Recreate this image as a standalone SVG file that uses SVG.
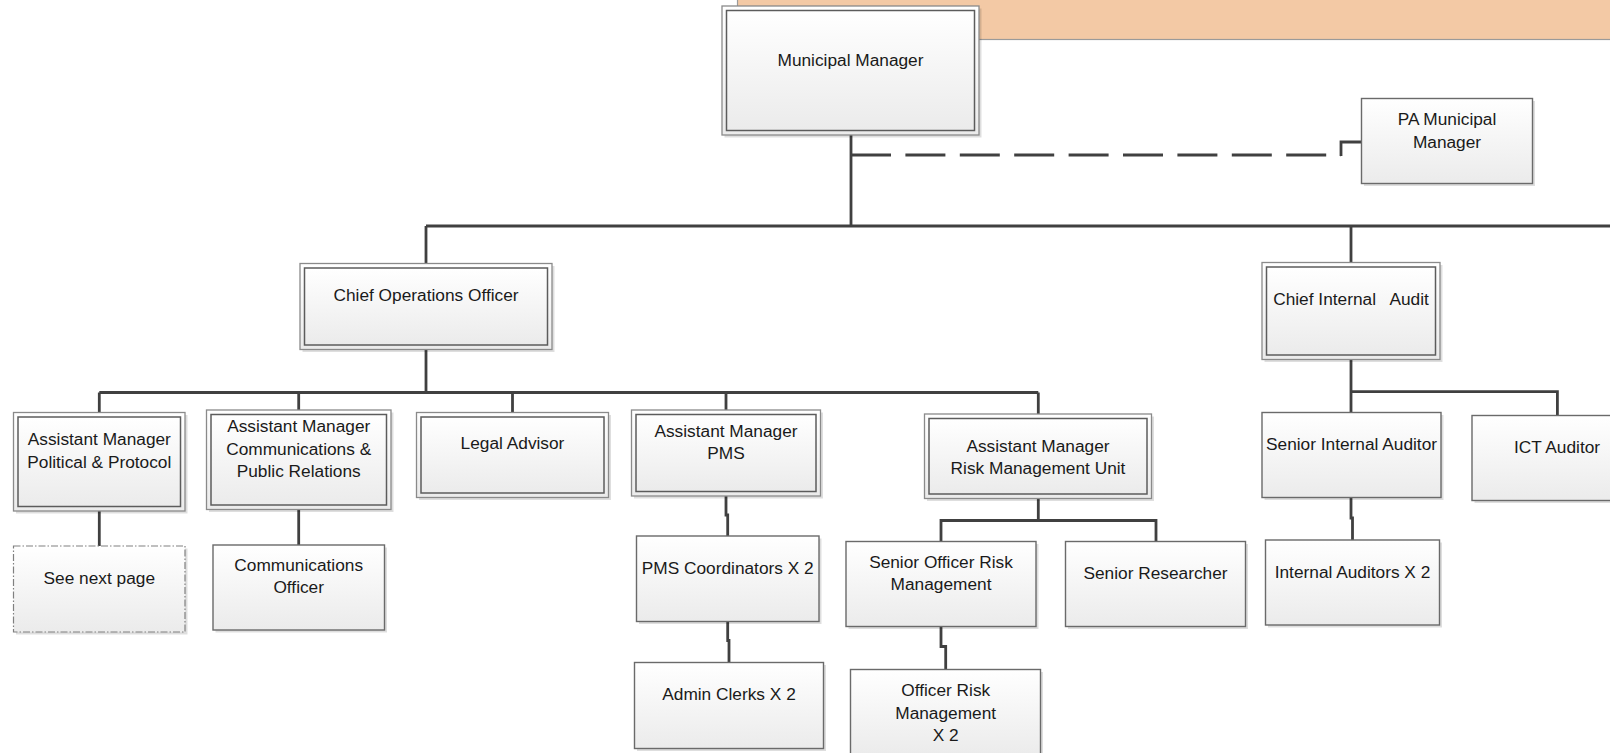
<svg xmlns="http://www.w3.org/2000/svg" width="1610" height="753" viewBox="0 0 1610 753">
  <defs>
    <linearGradient id="boxFill" x1="0" y1="0" x2="0" y2="1">
      <stop offset="0" stop-color="#ffffff"/>
      <stop offset="1" stop-color="#ebebeb"/>
    </linearGradient>
  </defs>
  <style>
    .shadow { fill: #000000; fill-opacity: 0.13; }
    .outer { fill: url(#boxFill); stroke: #8a8a8a; stroke-width: 1.3; }
    .inner { fill: url(#boxFill); stroke: #5c5c5c; stroke-width: 1.5; }
    .box { fill: url(#boxFill); stroke: #6a6a6a; stroke-width: 1.4; }
    .dashbox { fill: url(#boxFill); stroke: #808080; stroke-width: 1.2; stroke-dasharray: 7 2 1.5 2; }
    .lbl { font-family: "Liberation Sans", Arial, sans-serif; font-size: 17.3px; fill: #1a1a1a; text-anchor: middle; }
    .pre { white-space: pre; }
    .conn { fill: none; stroke: #404040; stroke-width: 2.8; }
    .dash { fill: none; stroke: #404040; stroke-width: 2.8; stroke-dasharray: 40 14.4; }
  </style>

  <!-- title banner -->
  <rect id="banner" x="737.5" y="-2" width="880" height="41.5" fill="#f3c9a5" stroke="#9a9a9a" stroke-width="1.2"/>

  <!-- connectors -->
  <g id="connectors">
    <path class="conn" d="M851,135 V226"/>
    <path class="conn" d="M426,226 H1612"/>
    <path class="conn" d="M426,226 V263.5"/>
    <path class="conn" d="M1351,226 V262.5"/>
    <path class="dash" d="M851,155 H1341"/>
    <path class="conn" d="M1341,156 V142 H1361.5"/>
    <path class="conn" d="M426,349.5 V392.5"/>
    <path class="conn" d="M99.3,392.5 H1038.3"/>
    <path class="conn" d="M99.3,392.5 V412.5"/>
    <path class="conn" d="M298.7,392.5 V410"/>
    <path class="conn" d="M512.5,392.5 V412.5"/>
    <path class="conn" d="M726,392.5 V410"/>
    <path class="conn" d="M1038.3,392.5 V414"/>
    <path class="conn" d="M99.3,511 V546"/>
    <path class="conn" d="M298.7,509.5 V545"/>
    <path class="conn" d="M726,496 V515 H727.7 V536"/>
    <path class="conn" d="M727.7,621.5 V640.5 H729 V662.5"/>
    <path class="conn" d="M1038.3,498.5 V520.5"/>
    <path class="conn" d="M941,541.5 V520.5 H1156 V541.5"/>
    <path class="conn" d="M941,626.5 V646.5 H945.7 V669.5"/>
    <path class="conn" d="M1351,359.5 V412.5"/>
    <path class="conn" d="M1351,391.7 H1557.4 V415.5"/>
    <path class="conn" d="M1351,497.5 V518 H1352.5 V540"/>
  </g>

  <!-- Municipal Manager -->
  <g id="municipal-manager">
    <rect class="shadow" x="724.5" y="8.5" width="257" height="129"/>
    <rect class="outer" x="722" y="6" width="257" height="129"/>
    <rect class="inner" x="726.5" y="10.5" width="248" height="120"/>
    <text class="lbl" x="850.5" y="66">Municipal Manager</text>
  </g>

  <!-- PA Municipal Manager -->
  <g id="pa-municipal-manager">
    <rect class="shadow" x="1364" y="101" width="171" height="85"/>
    <rect class="box" x="1361.5" y="98.5" width="171" height="85"/>
    <text class="lbl" x="1447" y="125">PA Municipal</text>
    <text class="lbl" x="1447" y="148">Manager</text>
  </g>

  <!-- Chief Operations Officer -->
  <g id="chief-operations-officer">
    <rect class="shadow" x="302.5" y="266" width="252" height="86"/>
    <rect class="outer" x="300" y="263.5" width="252" height="86"/>
    <rect class="inner" x="304.5" y="268" width="243" height="77"/>
    <text class="lbl" x="426" y="301">Chief Operations Officer</text>
  </g>

  <!-- Chief Internal Audit -->
  <g id="chief-internal-audit">
    <rect class="shadow" x="1264.5" y="265" width="178" height="97"/>
    <rect class="outer" x="1262" y="262.5" width="178" height="97"/>
    <rect class="inner" x="1266.5" y="267" width="169" height="88"/>
    <text class="lbl pre" x="1351" y="305" xml:space="preserve">Chief Internal   Audit</text>
  </g>

  <!-- Assistant Manager Political & Protocol -->
  <g id="am-political">
    <rect class="shadow" x="16" y="415" width="171.5" height="98.5"/>
    <rect class="outer" x="13.5" y="412.5" width="171.5" height="98.5"/>
    <rect class="inner" x="18" y="417" width="162.5" height="89.5"/>
    <text class="lbl" x="99.3" y="445">Assistant Manager</text>
    <text class="lbl" x="99.3" y="467.5">Political &amp; Protocol</text>
  </g>

  <!-- Assistant Manager Communications & Public Relations -->
  <g id="am-communications">
    <rect class="shadow" x="209" y="412.5" width="184.5" height="99.5"/>
    <rect class="outer" x="206.5" y="410" width="184.5" height="99.5"/>
    <rect class="inner" x="211" y="414.5" width="175.5" height="90.5"/>
    <text class="lbl" x="298.7" y="431.5">Assistant Manager</text>
    <text class="lbl" x="298.7" y="454.5">Communications &amp;</text>
    <text class="lbl" x="298.7" y="477">Public Relations</text>
  </g>

  <!-- Legal Advisor -->
  <g id="legal-advisor">
    <rect class="shadow" x="419" y="415" width="192" height="85"/>
    <rect class="outer" x="416.5" y="412.5" width="192" height="85"/>
    <rect class="inner" x="421" y="417" width="183" height="76"/>
    <text class="lbl" x="512.5" y="449">Legal Advisor</text>
  </g>

  <!-- Assistant Manager PMS -->
  <g id="am-pms">
    <rect class="shadow" x="634" y="412.5" width="189" height="86"/>
    <rect class="outer" x="631.5" y="410" width="189" height="86"/>
    <rect class="inner" x="636" y="414.5" width="180" height="77"/>
    <text class="lbl" x="726" y="436.5">Assistant Manager</text>
    <text class="lbl" x="726" y="458.5">PMS</text>
  </g>

  <!-- Assistant Manager Risk Management Unit -->
  <g id="am-risk">
    <rect class="shadow" x="927" y="416.5" width="227" height="84.5"/>
    <rect class="outer" x="924.5" y="414" width="227" height="84.5"/>
    <rect class="inner" x="929" y="418.5" width="218" height="75.5"/>
    <text class="lbl" x="1038" y="451.5">Assistant Manager</text>
    <text class="lbl" x="1038" y="473.5">Risk Management Unit</text>
  </g>

  <!-- See next page -->
  <g id="see-next-page">
    <rect class="shadow" x="16" y="548.5" width="171.5" height="86"/>
    <rect class="dashbox" x="13.5" y="546" width="171.5" height="86"/>
    <text class="lbl" x="99.3" y="584">See next page</text>
  </g>

  <!-- Communications Officer -->
  <g id="communications-officer">
    <rect class="shadow" x="215.5" y="547.5" width="171.5" height="85"/>
    <rect class="box" x="213" y="545" width="171.5" height="85"/>
    <text class="lbl" x="298.7" y="571">Communications</text>
    <text class="lbl" x="298.7" y="593">Officer</text>
  </g>

  <!-- PMS Coordinators -->
  <g id="pms-coordinators">
    <rect class="shadow" x="639" y="538.5" width="182.5" height="85.5"/>
    <rect class="box" x="636.5" y="536" width="182.5" height="85.5"/>
    <text class="lbl" x="727.7" y="573.5">PMS Coordinators X 2</text>
  </g>

  <!-- Admin Clerks -->
  <g id="admin-clerks">
    <rect class="shadow" x="637" y="665" width="189" height="86"/>
    <rect class="box" x="634.5" y="662.5" width="189" height="86"/>
    <text class="lbl" x="729" y="700">Admin Clerks X 2</text>
  </g>

  <!-- Senior Officer Risk Management -->
  <g id="senior-officer-risk">
    <rect class="shadow" x="848.5" y="544" width="190" height="85"/>
    <rect class="box" x="846" y="541.5" width="190" height="85"/>
    <text class="lbl" x="941" y="567.5">Senior Officer Risk</text>
    <text class="lbl" x="941" y="590">Management</text>
  </g>

  <!-- Senior Researcher -->
  <g id="senior-researcher">
    <rect class="shadow" x="1068" y="544" width="180" height="85"/>
    <rect class="box" x="1065.5" y="541.5" width="180" height="85"/>
    <text class="lbl" x="1155.5" y="578.5">Senior Researcher</text>
  </g>

  <!-- Officer Risk Management -->
  <g id="officer-risk">
    <rect class="shadow" x="853" y="672" width="190" height="86"/>
    <rect class="box" x="850.5" y="669.5" width="190" height="86"/>
    <text class="lbl" x="945.7" y="695.5">Officer Risk</text>
    <text class="lbl" x="945.7" y="718.5">Management</text>
    <text class="lbl" x="945.7" y="741">X 2</text>
  </g>

  <!-- Senior Internal Auditor -->
  <g id="senior-internal-auditor">
    <rect class="shadow" x="1264.5" y="415" width="179" height="85"/>
    <rect class="box" x="1262" y="412.5" width="179" height="85"/>
    <text class="lbl" x="1351.5" y="449.5">Senior Internal Auditor</text>
  </g>

  <!-- ICT Auditor -->
  <g id="ict-auditor">
    <rect class="shadow" x="1474.5" y="418" width="171" height="85"/>
    <rect class="box" x="1472" y="415.5" width="171" height="85"/>
    <text class="lbl" x="1557" y="452.5">ICT Auditor</text>
  </g>

  <!-- Internal Auditors -->
  <g id="internal-auditors">
    <rect class="shadow" x="1268" y="542.5" width="174" height="85"/>
    <rect class="box" x="1265.5" y="540" width="174" height="85"/>
    <text class="lbl" x="1352.5" y="578">Internal Auditors X 2</text>
  </g>
</svg>
